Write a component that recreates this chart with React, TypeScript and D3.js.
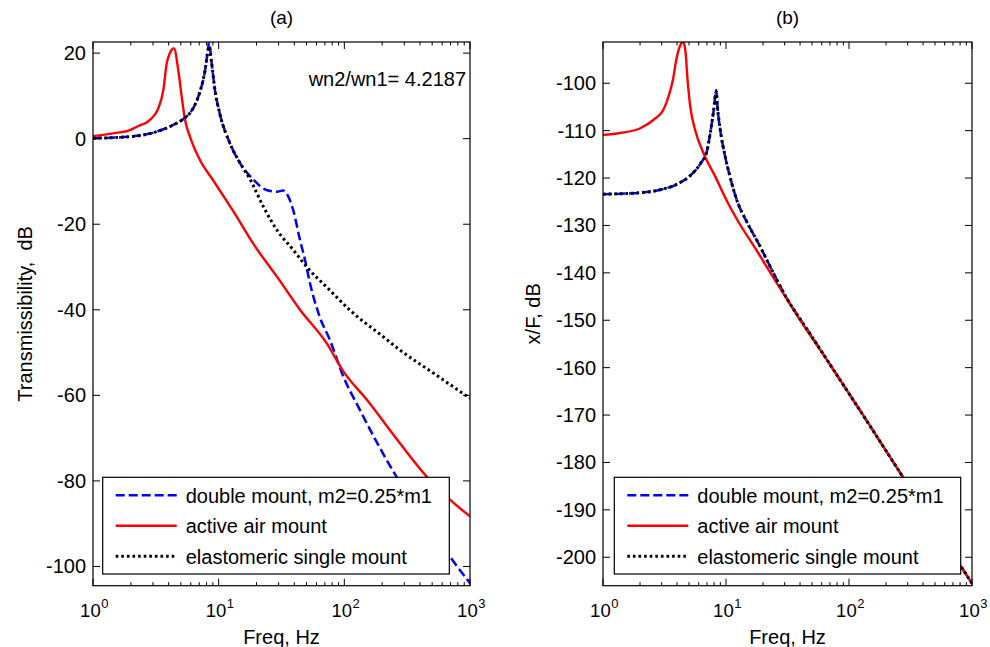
import React from 'react';
import * as d3 from 'd3';

// ---------- data ----------
// Panel (a): transmissibility, dB
const aDoubleF = [1, 2, 2.84, 3.63, 4.35, 5.24, 5.91, 6.5, 7.1, 7.8, 8.27, 8.37, 8.8, 9.34, 10.2, 12.3, 14.8, 18.9, 24, 28.9, 32.6, 36.8, 39.2, 44.4, 48.6, 53.3, 63.6, 76.6, 98.2, 133, 177, 260, 400, 692, 1000];
const aDoubleDb = [0.1, 0.5, 1.2, 2.2, 3.2, 4.6, 6.0, 8.0, 11.0, 16, 21.5, 22.6, 17.6, 11.4, 5.9, -1.1, -5.7, -9.6, -12, -12.4, -12.1, -14.3, -16.7, -23.7, -28.3, -33.8, -41.6, -47, -55.6, -63.4, -70.4, -79, -87.2, -97.7, -103.9];

const aActiveF = [1, 1.45, 1.97, 2.23, 2.84, 3.31, 3.63, 3.86, 4.09, 4.41, 4.77, 5.08, 5.4, 5.91, 7.1, 9.07, 11.6, 13.1, 18.9, 29, 44.4, 72.3, 98.2, 150.6, 277, 452, 692, 1000];
const aActiveDb = [0.6, 1.25, 2.0, 2.8, 4.4, 7.1, 11.4, 17.6, 20.0, 21.1, 16, 9.8, 4.4, 0.5, -5, -9.8, -14.6, -17.0, -24.6, -32.2, -40, -47.8, -54.4, -61, -71.2, -79, -84.4, -88.3];

const aElastF = [1, 2, 2.84, 3.63, 4.35, 5.24, 5.91, 6.5, 7.1, 7.8, 8.27, 8.37, 8.8, 9.34, 10.2, 12.3, 14.8, 17.7, 22.7, 29, 39.2, 50, 76.6, 110, 204, 277, 511, 1000];
const aElastDb = [0.1, 0.5, 1.2, 2.2, 3.2, 4.6, 6.0, 8.0, 11.0, 16, 21.0, 21.5, 17.6, 11.4, 5.9, -1.1, -5.7, -9.4, -15.9, -21.3, -26, -29.9, -35.4, -40, -46.3, -49.4, -54.8, -60.7];

// Panel (b): x/F, dB
const bDoubleF = [1, 2, 3, 4, 5.12, 6.18, 7.0, 7.45, 7.93, 8.33, 8.52, 8.99, 9.85, 10.8, 12.3, 14.8, 19, 21.5, 31.4, 45.6, 75, 140, 261, 1000];
const bDoubleDb = [-123.4, -123.1, -122.4, -121.3, -119.5, -117, -114.3, -110.5, -105.8, -101.4, -104.9, -109.9, -115.5, -119.8, -124.8, -129.3, -134.5, -137.3, -145.5, -151.9, -160.5, -171.3, -182.2, -205.5];

const bActiveF = [1, 1.38, 2.01, 2.58, 3.1, 3.41, 3.7, 3.94, 4.2, 4.47, 4.67, 4.87, 5.12, 5.62, 6.57, 8.19, 10.2, 13.0, 17.3, 21.5, 40.2, 75, 140, 261, 1000];
const bActiveDb = [-110.9, -110.5, -109.5, -107.7, -105.6, -102.8, -99.3, -95.1, -92.3, -91.3, -93, -99.3, -104.9, -109.9, -114.8, -119.7, -124.9, -129.8, -134.8, -138.8, -150.0, -160.5, -171.3, -182.2, -205.5];

const bElastF = [1, 2, 3, 4, 5.12, 6.18, 7.0, 7.45, 7.93, 8.33, 8.52, 8.99, 9.85, 10.8, 12.3, 14.8, 19, 21.5, 31.4, 45.6, 75, 140, 261, 1000];
const bElastDb = [-123.4, -123.1, -122.4, -121.3, -119.5, -117, -114.3, -110.5, -105.8, -101.8, -104.9, -109.9, -115.5, -119.8, -124.8, -129.3, -134.5, -137.3, -145.5, -151.9, -160.5, -171.3, -182.2, -205.5];

const legendLabels = ['double mount, m2=0.25*m1', 'active air mount', 'elastomeric single mount'];
const aYTicks = [-100, -80, -60, -40, -20, 0, 20];
const bYTicks = [-200, -190, -180, -170, -160, -150, -140, -130, -120, -110, -100];
const xTickExps = [0, 1, 2, 3];
const aYDomain = [-104.5, 22.6];
const bYDomain = [-206.0, -91.3];

// ---------- styles ----------
const FONT = '"Liberation Sans", Arial, Helvetica, sans-serif';
const styles = [
  { stroke: '#0000ff', width: 2.5, dash: '9 4' },
  { stroke: '#ff0000', width: 2.4, dash: null },
  { stroke: '#000000', width: 3, dash: '2.6 3' },
];

function zip(f: number[], v: number[]): [number, number][] {
  return f.map((x, i) => [x, v[i]]);
}

type PanelProps = {
  id: string;
  x0: number; x1: number; y0: number; y1: number;
  yDomain: number[]; yTicks: number[];
  series: [number, number][][];
  title: string; ylabel: string; ylabelX: number;
  legendBox: { x: number; y: number; w: number; h: number };
  note?: string;
};

function Panel(p: PanelProps) {
  const xs = d3.scaleLog().domain([1, 1000]).range([p.x0, p.x1]);
  const ys = d3.scaleLinear().domain(p.yDomain).range([p.y1, p.y0]);
  const line = d3.line<[number, number]>()
    .x(d => xs(d[0]))
    .y(d => ys(d[1]))
    .curve(d3.curveMonotoneX);

  const minor: number[] = [];
  for (let e = 0; e < 3; e++) for (let k = 2; k <= 9; k++) minor.push(k * Math.pow(10, e));

  const majLen = 7, minLen = 3.5;
  const cx = (p.x0 + p.x1) / 2;
  const cy = (p.y0 + p.y1) / 2;
  const lb = p.legendBox;
  const rowH = 30.5;

  return (
    <g fontFamily={FONT} fill="#000">
      <defs>
        <clipPath id={p.id}>
          <rect x={p.x0} y={p.y0} width={p.x1 - p.x0} height={p.y1 - p.y0} />
        </clipPath>
      </defs>
      <rect x={p.x0} y={p.y0} width={p.x1 - p.x0} height={p.y1 - p.y0} fill="#fff" />

      {/* curves */}
      <g clipPath={`url(#${p.id})`}>
        {p.series.map((s, i) => (
          <path key={i} d={line(s) || ''} fill="none" stroke={styles[i].stroke}
            strokeWidth={styles[i].width} strokeDasharray={styles[i].dash || undefined}
            strokeLinejoin="round" />
        ))}
      </g>

      {/* y ticks */}
      {p.yTicks.map(t => (
        <g key={t}>
          <line x1={p.x0} x2={p.x0 + majLen} y1={ys(t)} y2={ys(t)} stroke="#000" strokeWidth={1} />
          <line x1={p.x1} x2={p.x1 - majLen} y1={ys(t)} y2={ys(t)} stroke="#000" strokeWidth={1} />
          <text x={p.x0 - 7} y={ys(t)} dy="0.35em" textAnchor="end" fontSize={20}>{t}</text>
        </g>
      ))}

      {/* x ticks */}
      {xTickExps.map(e => {
        const x = xs(Math.pow(10, e));
        const wBase = 1.112 * 18.5, wExp = 0.556 * 13;
        const start = x - (wBase + wExp) / 2 + 1;
        return (
          <g key={e}>
            <line x1={x} x2={x} y1={p.y1} y2={p.y1 - majLen} stroke="#000" strokeWidth={1} />
            <line x1={x} x2={x} y1={p.y0} y2={p.y0 + majLen} stroke="#000" strokeWidth={1} />
            <text x={start} y={616.5} fontSize={18.5}>10</text>
            <text x={start + wBase + 0.5} y={607.5} fontSize={13}>{e}</text>
          </g>
        );
      })}
      {minor.map(m => (
        <g key={m}>
          <line x1={xs(m)} x2={xs(m)} y1={p.y1} y2={p.y1 - minLen} stroke="#000" strokeWidth={1} />
          <line x1={xs(m)} x2={xs(m)} y1={p.y0} y2={p.y0 + minLen} stroke="#000" strokeWidth={1} />
        </g>
      ))}

      {/* box */}
      <rect x={p.x0} y={p.y0} width={p.x1 - p.x0} height={p.y1 - p.y0} fill="none" stroke="#000" strokeWidth={1.2} />

      {/* legend */}
      <rect x={lb.x} y={lb.y} width={lb.w} height={lb.h} fill="#fff" stroke="#000" strokeWidth={1.2} />
      {legendLabels.map((lab, i) => {
        const yy = lb.y + 18 + i * rowH;
        return (
          <g key={lab}>
            <line x1={lb.x + 13} x2={lb.x + 74} y1={yy} y2={yy} stroke={styles[i].stroke}
              strokeWidth={styles[i].width} strokeDasharray={styles[i].dash || undefined} />
            <text x={lb.x + 83} y={yy} dy="0.36em" fontSize={20}>{lab}</text>
          </g>
        );
      })}

      {/* labels */}
      <text x={cx} y={24} textAnchor="middle" fontSize={19}>{p.title}</text>
      <text x={cx} y={644} textAnchor="middle" fontSize={20}>Freq, Hz</text>
      <text transform={`translate(${p.ylabelX},${cy}) rotate(-90)`} textAnchor="middle" fontSize={20}
        xmlSpace="preserve" style={{ whiteSpace: 'pre' }}>{p.ylabel}</text>
      {p.note && (
        <text x={p.x1 - 4} y={86} textAnchor="end" fontSize={20}>{p.note}</text>
      )}
    </g>
  );
}

export default function App() {
  const top = 42, bottom = 585.7;
  return (
    <svg width={990} height={647} viewBox="0 0 990 647"
      style={{ position: 'absolute', left: 0, top: 0, background: '#fff' }}>
      <rect x={0} y={0} width={990} height={647} fill="#fff" />
      <Panel id="clipA" x0={93} x1={470} y0={top} y1={bottom}
        yDomain={aYDomain} yTicks={aYTicks}
        series={[zip(aDoubleF, aDoubleDb), zip(aActiveF, aActiveDb), zip(aElastF, aElastDb)]}
        title="(a)" ylabel={'Transmissibility,\u00a0\u00a0dB'} ylabelX={32}
        legendBox={{ x: 102.7, y: 477.3, w: 346.6, h: 96.7 }}
        note="wn2/wn1= 4.2187" />
      <Panel id="clipB" x0={603} x1={972} y0={top} y1={bottom}
        yDomain={bYDomain} yTicks={bYTicks}
        series={[zip(bDoubleF, bDoubleDb), zip(bActiveF, bActiveDb), zip(bElastF, bElastDb)]}
        title="(b)" ylabel="x/F, dB" ylabelX={540}
        legendBox={{ x: 614.3, y: 477.3, w: 346.4, h: 96.7 }} />
    </svg>
  );
}
